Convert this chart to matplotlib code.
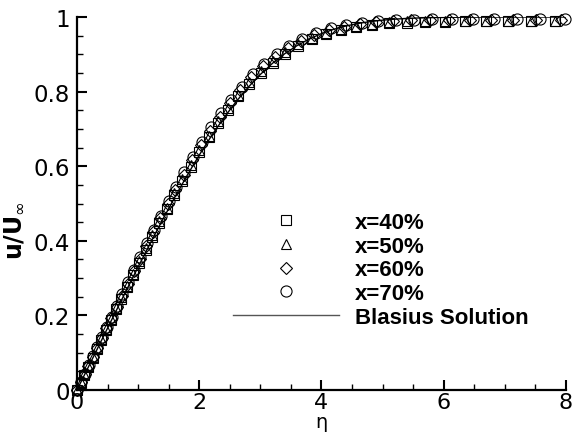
import matplotlib
matplotlib.use("Agg")
import matplotlib.pyplot as plt
from matplotlib.lines import Line2D
from matplotlib.ticker import MultipleLocator, FuncFormatter

# ---------------- data ----------------
eta_x40 = [0, 0.059, 0.122, 0.186, 0.254, 0.324, 0.398, 0.475, 0.556, 0.640,
           0.728, 0.820, 0.917, 1.018, 1.122, 1.232, 1.347, 1.467, 1.592, 1.723,
           1.859, 2.003, 2.152, 2.308, 2.471, 2.641, 2.820, 3.005, 3.200, 3.404,
           3.616, 3.838, 4.071, 4.313, 4.567, 4.831, 5.108, 5.396, 5.699, 6.015,
           6.345, 6.690, 7.049, 7.425, 7.819]
u_x40 = [0, 0.020, 0.041, 0.063, 0.086, 0.110, 0.135, 0.161, 0.188, 0.216,
         0.245, 0.276, 0.308, 0.341, 0.375, 0.411, 0.447, 0.484, 0.522, 0.561,
         0.599, 0.638, 0.677, 0.715, 0.752, 0.787, 0.820, 0.850, 0.878, 0.902,
         0.923, 0.941, 0.955, 0.966, 0.974, 0.979, 0.983, 0.985, 0.987, 0.987,
         0.988, 0.988, 0.988, 0.988, 0.988]

eta_x50 = [0, 0.059, 0.122, 0.186, 0.254, 0.324, 0.398, 0.475, 0.556, 0.640,
           0.728, 0.820, 0.917, 1.018, 1.122, 1.232, 1.347, 1.467, 1.592, 1.723,
           1.859, 2.003, 2.152, 2.308, 2.471, 2.641, 2.820, 3.005, 3.200, 3.404,
           3.616, 3.838, 4.071, 4.313, 4.567, 4.831, 5.108, 5.396, 5.699, 6.015,
           6.345, 6.690, 7.049, 7.425, 7.819]
u_x50 = [0, 0.021, 0.042, 0.064, 0.088, 0.112, 0.137, 0.164, 0.191, 0.220,
         0.249, 0.280, 0.312, 0.345, 0.380, 0.416, 0.452, 0.489, 0.527, 0.566,
         0.604, 0.643, 0.682, 0.720, 0.757, 0.792, 0.825, 0.855, 0.883, 0.906,
         0.927, 0.945, 0.958, 0.969, 0.977, 0.982, 0.986, 0.988, 0.989, 0.990,
         0.990, 0.990, 0.990, 0.990, 0.990]

eta_x60 = [0, 0.060, 0.123, 0.188, 0.257, 0.328, 0.403, 0.481, 0.563, 0.648,
           0.737, 0.830, 0.928, 1.030, 1.136, 1.247, 1.363, 1.485, 1.611, 1.744,
           1.882, 2.027, 2.178, 2.336, 2.501, 2.673, 2.854, 3.042, 3.239, 3.445,
           3.660, 3.885, 4.120, 4.365, 4.622, 4.890, 5.170, 5.462, 5.768, 6.088,
           6.422, 6.771, 7.135, 7.515, 7.914]
u_x60 = [0, 0.021, 0.042, 0.065, 0.089, 0.113, 0.139, 0.165, 0.194, 0.222,
         0.253, 0.284, 0.318, 0.351, 0.387, 0.423, 0.460, 0.498, 0.537, 0.576,
         0.616, 0.656, 0.695, 0.733, 0.769, 0.805, 0.838, 0.868, 0.894, 0.917,
         0.935, 0.951, 0.965, 0.974, 0.981, 0.986, 0.989, 0.991, 0.992, 0.992,
         0.993, 0.993, 0.993, 0.993, 0.993]

eta_x70 = [0, 0.060, 0.124, 0.190, 0.259, 0.331, 0.406, 0.485, 0.568, 0.653,
           0.743, 0.837, 0.935, 1.038, 1.145, 1.257, 1.374, 1.497, 1.624, 1.758,
           1.897, 2.043, 2.195, 2.355, 2.521, 2.694, 2.877, 3.066, 3.265, 3.473,
           3.689, 3.916, 4.153, 4.400, 4.659, 4.929, 5.211, 5.506, 5.814, 6.137,
           6.473, 6.825, 7.192, 7.575, 7.977]
u_x70 = [0, 0.021, 0.043, 0.066, 0.090, 0.115, 0.141, 0.168, 0.197, 0.226,
         0.257, 0.289, 0.323, 0.357, 0.393, 0.430, 0.467, 0.506, 0.545, 0.585,
         0.625, 0.665, 0.704, 0.742, 0.778, 0.813, 0.846, 0.875, 0.901, 0.923,
         0.942, 0.957, 0.970, 0.978, 0.985, 0.989, 0.992, 0.993, 0.994, 0.995,
         0.995, 0.995, 0.995, 0.995, 0.995]

eta_blasius = [0.0, 0.2, 0.4, 0.6, 0.8, 1.0, 1.2, 1.4, 1.6, 1.8, 2.0, 2.2, 2.4,
               2.6, 2.8, 3.0, 3.2, 3.4, 3.6, 3.8, 4.0, 4.2, 4.4, 4.6, 4.8, 5.0,
               5.2, 5.4, 5.6, 5.8, 6.0, 6.4, 6.8, 7.2, 8.0]
u_blasius = [0.0, 0.06641, 0.13277, 0.19894, 0.26471, 0.32979, 0.39378, 0.45627,
             0.51676, 0.57477, 0.62977, 0.68132, 0.72899, 0.77246, 0.81152,
             0.84605, 0.87609, 0.90177, 0.92333, 0.94112, 0.95552, 0.96696,
             0.97587, 0.98269, 0.98779, 0.99155, 0.99425, 0.99616, 0.99748,
             0.99838, 0.99898, 0.99961, 0.99987, 0.99996, 1.0]

series_labels = ["x=40%", "x=50%", "x=60%", "x=70%"]
blasius_label = "Blasius Solution"
x_ticks = [0, 2, 4, 6, 8]
y_ticks = [0, 0.2, 0.4, 0.6, 0.8, 1.0]

# ---------------- figure ----------------
fig = plt.figure(figsize=(5.73, 4.35), dpi=100)
ax = fig.add_axes([77 / 573, 1 - 391 / 435, 489 / 573, 373 / 435])

ax.plot(eta_blasius, u_blasius, color="black", lw=1.0, zorder=2)

styles = [
    dict(marker="s", ms=7.0),
    dict(marker="^", ms=7.5),
    dict(marker="D", ms=6.5),
    dict(marker="o", ms=8.0),
]
series = [(eta_x40, u_x40), (eta_x50, u_x50), (eta_x60, u_x60), (eta_x70, u_x70)]
for (ex, uy), st in zip(series, styles):
    ax.plot(ex, uy, linestyle="none", marker=st["marker"], ms=st["ms"],
            mfc="none", mec="black", mew=0.8, zorder=3, clip_on=False)

ax.set_xlim(0, 8)
ax.set_ylim(0, 1)
ax.spines["top"].set_visible(False)
ax.spines["right"].set_visible(False)
for s in ("left", "bottom"):
    ax.spines[s].set_linewidth(1.6)

ax.set_xticks(x_ticks)
ax.set_yticks(y_ticks)
ax.xaxis.set_minor_locator(MultipleLocator(0.5))
ax.yaxis.set_minor_locator(MultipleLocator(0.05))
fmt = FuncFormatter(lambda v, p: "%g" % v)
ax.xaxis.set_major_formatter(fmt)
ax.yaxis.set_major_formatter(fmt)
ax.tick_params(which="major", direction="in", length=7.5, width=1.5)
ax.tick_params(which="minor", direction="in", length=4.5, width=1.0)
ax.tick_params(axis="x", which="major", pad=1.5, labelsize=16)
ax.tick_params(axis="y", which="major", pad=5, labelsize=16.5)
for lab in ax.get_xticklabels() + ax.get_yticklabels():
    lab.set_family("DejaVu Sans")

ax.set_xlabel("η", fontsize=14, family="DejaVu Sans", labelpad=0)
ax.set_ylabel(r"$\mathbf{u/U}_{\infty}$", fontsize=17)
ax.yaxis.set_label_coords(-0.105, 0.43)

handles = [Line2D([], [], linestyle="none", marker=st["marker"], ms=st["ms"],
                  mfc="none", mec="black", mew=0.8) for st in styles]
handles.append(Line2D([], [], color="#555555", lw=1.0))
leg = ax.legend(handles, series_labels + [blasius_label],
                loc="upper left", bbox_to_anchor=(0.319, 0.477),
                frameon=False, borderpad=0, borderaxespad=0,
                handlelength=4.75, handletextpad=0.75, labelspacing=0.12,
                numpoints=1, prop=dict(family="Liberation Sans",
                                       weight="bold", size=16))

fig.savefig("out.png", dpi=100, facecolor="white")
